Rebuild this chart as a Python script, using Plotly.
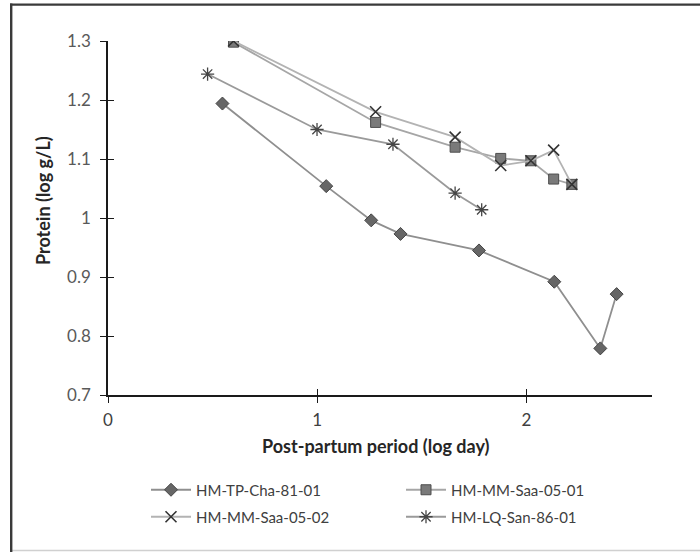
import plotly.graph_objects as go

# Data (log day, log g/L)
s1_name = "HM-TP-Cha-81-01"
s1_x = [0.547, 1.043, 1.258, 1.398, 1.773, 2.133, 2.353, 2.431]
s1_y = [1.194, 1.054, 0.996, 0.973, 0.945, 0.892, 0.779, 0.871]

s2_name = "HM-MM-Saa-05-01"
s2_x = [0.600, 1.279, 1.659, 1.877, 2.021, 2.130, 2.217]
s2_y = [1.298, 1.162, 1.120, 1.101, 1.097, 1.066, 1.057]

s3_name = "HM-MM-Saa-05-02"
s3_x = [0.600, 1.279, 1.659, 1.877, 2.021, 2.130, 2.217]
s3_y = [1.300, 1.180, 1.137, 1.089, 1.097, 1.115, 1.057]

s4_name = "HM-LQ-San-86-01"
s4_x = [0.476, 0.999, 1.362, 1.659, 1.786]
s4_y = [1.244, 1.150, 1.125, 1.042, 1.014]

x_ticks = [0, 1, 2]
y_ticks = [0.7, 0.8, 0.9, 1.0, 1.1, 1.2, 1.3]
y_labels = ["0.7", "0.8", "0.9", "1", "1.1", "1.2", "1.3"]

FONT = "Lato, 'Open Sans', sans-serif"
W, H = 700, 552
L, R, T, B = 108, 48, 41, 157
PW, PH = W - L - R, H - T - B

def px(xp):
    return (xp - L) / PW

def py(yp):
    return (H - B - yp) / PH

fig = go.Figure()

fig.add_trace(go.Scatter(
    x=s1_x, y=s1_y, name=s1_name, mode="lines+markers", legend="legend",
    line=dict(color="#8f8f8f", width=1.8),
    marker=dict(symbol="diamond", size=10, color="#666666",
                line=dict(color="#454545", width=1)),
))
fig.add_trace(go.Scatter(
    x=s2_x, y=s2_y, name=s2_name, mode="lines+markers", legend="legend",
    line=dict(color="#a6a6a6", width=1.8),
    marker=dict(symbol="square", size=10, color="#7a7a7a",
                line=dict(color="#4d4d4d", width=1)),
))
fig.add_trace(go.Scatter(
    x=s3_x, y=s3_y, name=s3_name, mode="lines+markers", legend="legend2",
    line=dict(color="#b3b3b3", width=1.8),
    marker=dict(symbol="x-thin-open", size=11, color="#333333",
                line=dict(color="#333333", width=1.6)),
))
fig.add_trace(go.Scatter(
    x=s4_x, y=s4_y, name=s4_name, mode="lines+markers", legend="legend2",
    line=dict(color="#9a9a9a", width=1.8),
    marker=dict(symbol="asterisk-open", size=11, color="#454545",
                line=dict(color="#454545", width=1.3)),
))

axis_common = dict(showgrid=False, zeroline=False, showline=True,
                   linecolor="#1a1a1a", linewidth=1.5,
                   ticks="outside", ticklen=6, tickwidth=1.2, tickcolor="#1a1a1a")

legend_common = dict(orientation="h", xanchor="left", yanchor="middle",
                     entrywidth=200, entrywidthmode="pixels",
                     font=dict(family=FONT, size=15, color="#404040"),
                     itemwidth=40, bgcolor="rgba(0,0,0,0)")

fig.update_layout(
    width=W, height=H,
    margin=dict(l=L, r=R, t=T, b=B, pad=0, autoexpand=False),
    paper_bgcolor="white", plot_bgcolor="white",
    font=dict(family=FONT, size=15, color="#595959"),
    showlegend=True,
    legend=dict(x=px(146), y=py(490), **legend_common),
    legend2=dict(x=px(146), y=py(517), **legend_common),
    xaxis=dict(range=[0, 2.6], tickvals=x_ticks, ticktext=[str(v) for v in x_ticks],
               tickfont=dict(size=17, color="#404040"), ticklabelstandoff=3,
               automargin=False, **axis_common),
    yaxis=dict(range=[0.7, 1.3], tickvals=y_ticks, ticktext=y_labels,
               tickfont=dict(size=17, color="#595959"), ticklabelstandoff=6,
               automargin=False, **axis_common),
    xaxis2=dict(overlaying="x", range=[0, 2.6], tickvals=x_ticks, showticklabels=False,
                showgrid=False, zeroline=False, showline=False, ticks="inside",
                ticklen=6, tickwidth=1.2, tickcolor="#1a1a1a", side="bottom",
                anchor="y2", automargin=False),
    yaxis2=dict(overlaying="y", range=[0.7, 1.3], tickvals=y_ticks, showticklabels=False,
                showgrid=False, zeroline=False, showline=False, ticks="inside",
                ticklen=6, tickwidth=1.2, tickcolor="#1a1a1a", side="left",
                anchor="x2", automargin=False),
)

# invisible trace to activate overlay axes
fig.add_trace(go.Scatter(x=[None], y=[None], xaxis="x2", yaxis="y2",
                         showlegend=False, hoverinfo="skip"))

fig.add_annotation(text="<b>Post-partum period (log day)</b>", xref="paper", yref="paper",
                   x=px(376), y=py(446), xanchor="center", yanchor="middle",
                   showarrow=False, font=dict(family=FONT, size=18, color="#262626"))
fig.add_annotation(text="<b>Protein (log g/L)</b>", xref="paper", yref="paper",
                   x=px(43), y=py(201), xanchor="center", yanchor="middle", textangle=-90,
                   showarrow=False, font=dict(family=FONT, size=18, color="#262626"))

# chart frame: filled thin rectangles instead of stroked lines
fig.add_shape(type="rect", xref="paper", yref="paper", x0=px(11), x1=px(700), y0=py(551.2), y1=py(549.8),
              line=dict(width=0), fillcolor="#d0d0d0", layer="above")
fig.add_shape(type="rect", xref="paper", yref="paper", x0=px(10), x1=px(700), y0=py(5.8), y1=py(3.4),
              line=dict(width=0), fillcolor="#3a3a3a", layer="above")
fig.add_shape(type="rect", xref="paper", yref="paper", x0=px(10), x1=px(12.4), y0=py(552), y1=py(3.4),
              line=dict(width=0), fillcolor="#3a3a3a", layer="above")

fig.write_html("out.html", config={"displayModeBar": False},
               post_script="document.body.style.margin='0';document.body.style.overflow='hidden';")
